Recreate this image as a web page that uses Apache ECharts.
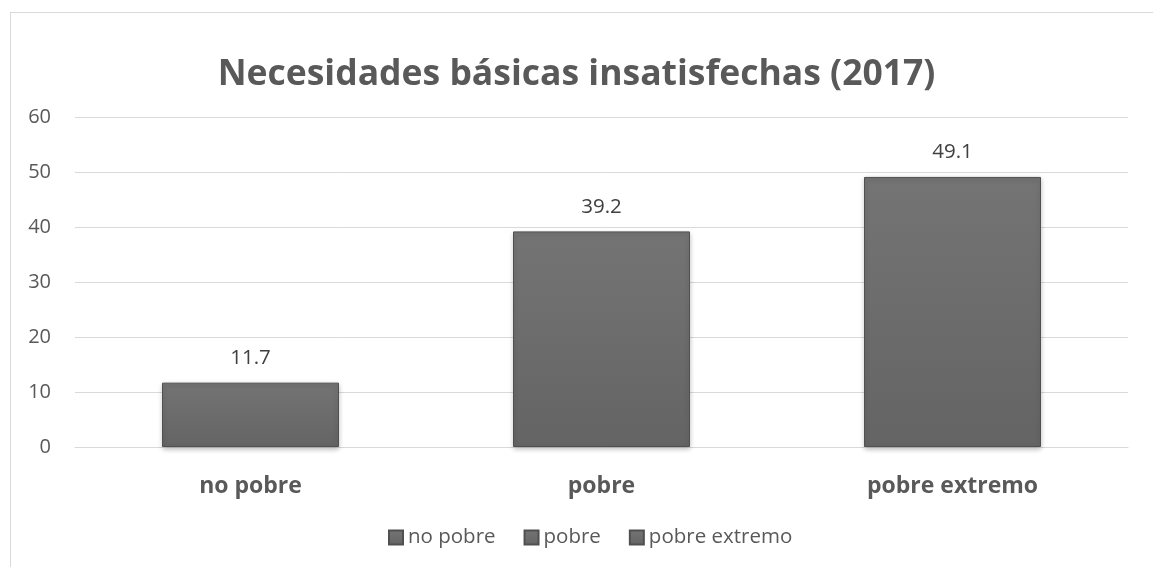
<!DOCTYPE html>
<html><head><meta charset="utf-8">
<script src="https://cdn.jsdelivr.net/npm/echarts@6/dist/echarts.min.js"></script>
<style>
html,body{margin:0;padding:0;background:#fff;overflow:hidden;}
#frame{position:absolute;left:10px;top:12px;width:1200px;height:620px;border:1px solid #d9d9d9;box-sizing:border-box;}
#c{position:absolute;left:0;top:0;width:1153px;height:567px;}
</style></head>
<body>
<div id="frame"></div>
<div id="c"></div>
<script>
const titleText = 'Necesidades básicas insatisfechas (2017)';
const categories = ['no pobre', 'pobre', 'pobre extremo'];
const values = [11.7, 39.2, 49.1];
const yTicks = [0, 10, 20, 30, 40, 50, 60];

const chart = echarts.init(document.getElementById('c'), null, {renderer: 'canvas'});
const font = '"Open Sans", "Noto Sans", sans-serif';
const barColor = {
  type: 'linear', x: 0, y: 0, x2: 0, y2: 1,
  colorStops: [{offset: 0, color: '#747474'}, {offset: 1, color: '#646464'}]
};
const series = categories.map((name, i) => ({
  name: name,
  type: 'bar',
  barWidth: 177,
  barGap: '-100%',
  data: values.map((v, j) => j === i ? v : '-'),
  itemStyle: {
    color: barColor,
    borderColor: '#505050',
    borderWidth: 1,
    shadowColor: 'rgba(0,0,0,0.25)',
    shadowBlur: 5,
    shadowOffsetY: 2
  },
  label: {
    show: true, position: 'top', distance: 14,
    color: '#404040', fontSize: 20.5, fontFamily: font,
    formatter: p => p.value.toFixed(1)
  }
}));

chart.setOption({
  animation: false,
  title: {
    text: titleText, left: 'center', top: 52,
    textStyle: {fontFamily: font, fontWeight: 'bold', fontSize: 35.5, color: '#595959'}
  },
  grid: {left: 75, right: 25, top: 117, bottom: 120},
  legend: {
    bottom: 14, left: 383, itemWidth: 14, itemHeight: 14, itemGap: 28,
    icon: 'rect',
    textStyle: {fontFamily: font, fontSize: 20.5, color: '#595959'},
    data: categories
  },
  xAxis: {
    type: 'category', data: categories,
    axisLine: {show: true, lineStyle: {color: '#d9d9d9'}},
    axisTick: {show: false},
    axisLabel: {fontFamily: font, fontWeight: 'bold', fontSize: 23, color: '#595959', margin: 28}
  },
  yAxis: {
    type: 'value', min: yTicks[0], max: yTicks[yTicks.length - 1], interval: 10,
    axisLine: {show: false}, axisTick: {show: false},
    splitLine: {lineStyle: {color: '#d9d9d9', width: 1}},
    axisLabel: {fontFamily: font, fontSize: 20, color: '#595959', margin: 24}
  },
  series: series
});
</script>
</body></html>
